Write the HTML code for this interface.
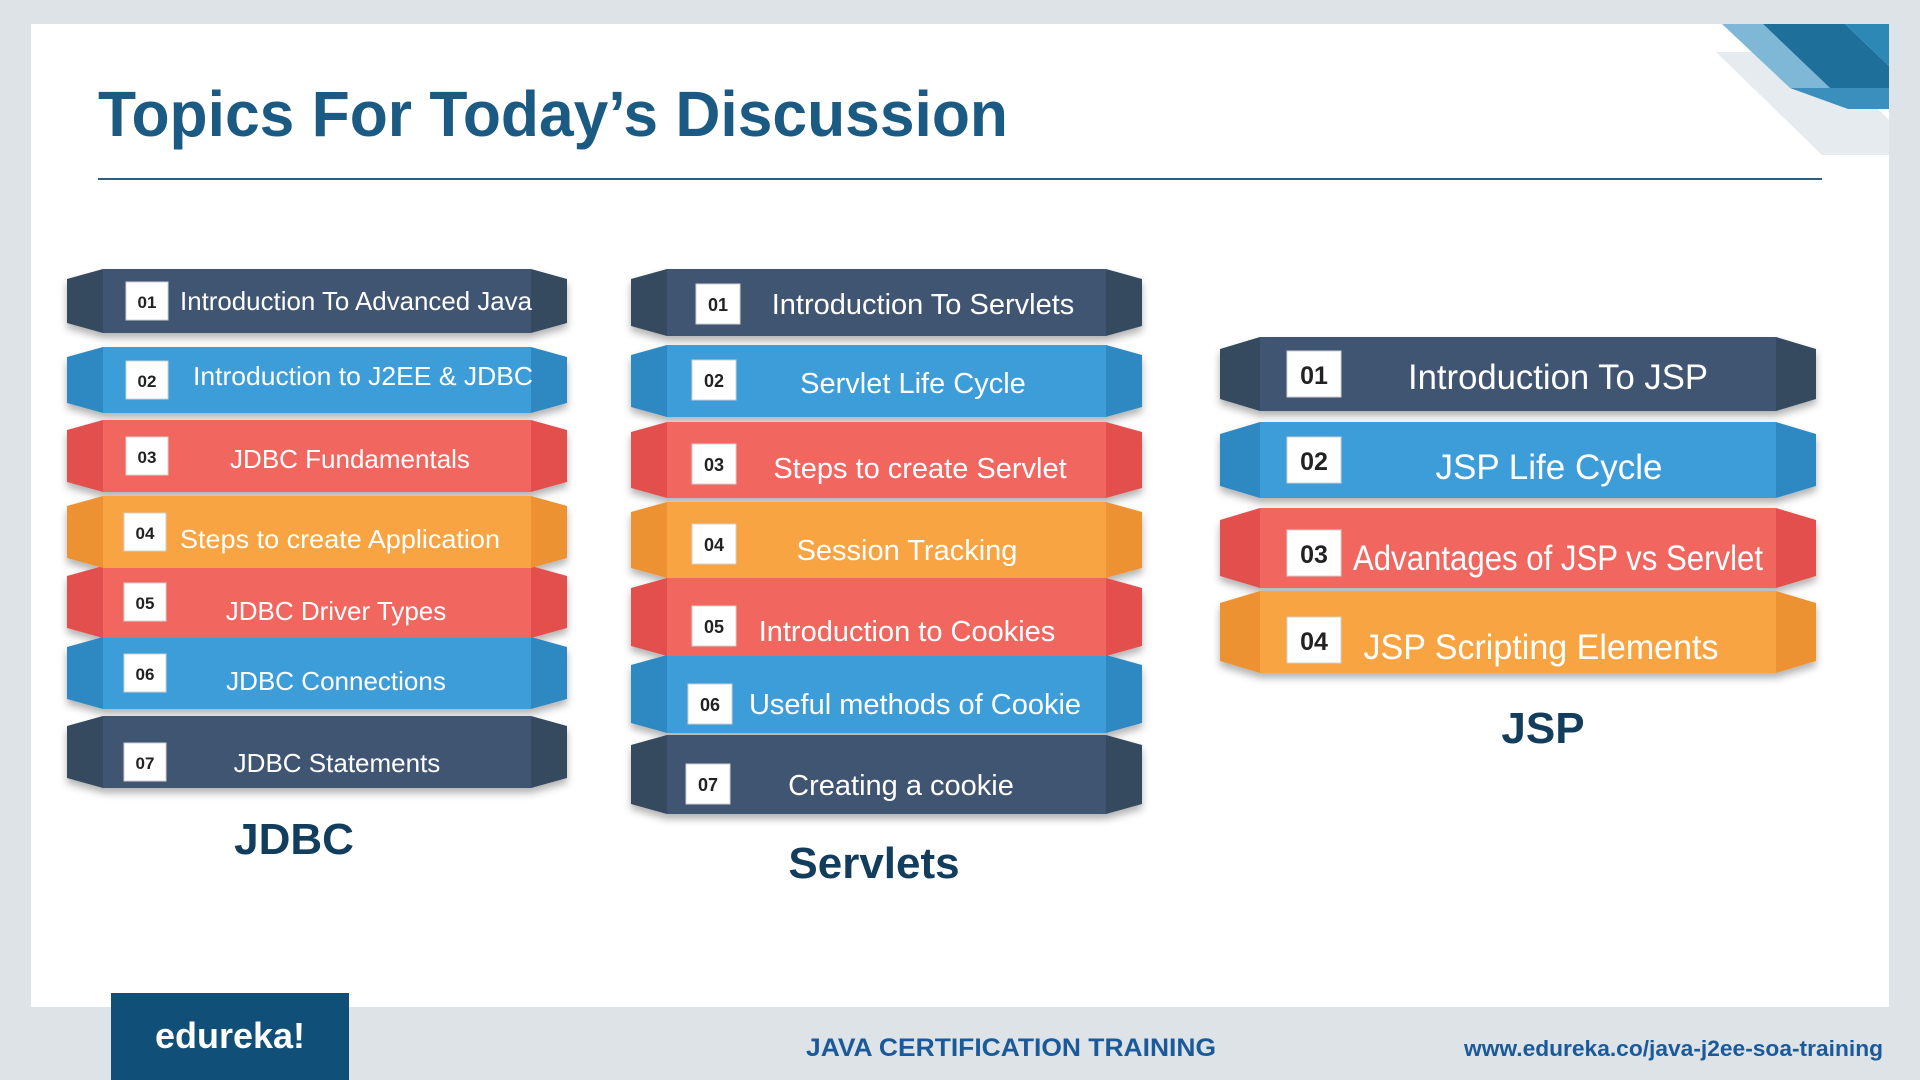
<!DOCTYPE html>
<html><head><meta charset="utf-8"><style>
html,body{margin:0;padding:0;width:1920px;height:1080px;overflow:hidden;background:#dde3e6;}
svg{display:block}
text{font-family:"Liberation Sans",sans-serif;}
</style></head><body>
<svg width="1920" height="1080" viewBox="0 0 1920 1080" xmlns="http://www.w3.org/2000/svg">
<defs>
<filter id="sh" x="-5%" y="-20%" width="110%" height="160%"><feDropShadow dx="0" dy="5" stdDeviation="4" flood-color="#000" flood-opacity="0.3"/></filter>
</defs>
<rect x="0" y="0" width="1920" height="1080" fill="#dde3e6"/>
<rect x="31" y="24" width="1858" height="983" fill="#ffffff"/>
<!-- corner decoration -->
<polygon points="1716,52 1822,52 1889,120 1889,155 1822,155" fill="#e6ebf0"/>
<polygon points="1722,24 1763,24 1830,88 1790,88" fill="#7fb8d6"/>
<polygon points="1763,24 1845,24 1889,66 1889,88 1830,88" fill="#1e6f9a"/>
<polygon points="1845,24 1889,24 1889,66" fill="#2e88b5"/>
<polygon points="1790,88 1889,88 1889,109 1848,109" fill="#3a8fbd"/>
<!-- title -->
<text x="98" y="136" font-size="64" font-weight="bold" fill="#1b5a82" textLength="910" lengthAdjust="spacingAndGlyphs">Topics For Today’s Discussion</text>
<rect x="98" y="178" width="1724" height="2" fill="#2f5f80"/>

<!-- COLUMN 1 JDBC -->
<g filter="url(#sh)">
<g transform="translate(67,716)"><polygon points="0,10 36,0 36,72 0,62" fill="#34495e"/><rect x="36" y="0" width="428" height="72" fill="#3f5572"/><polygon points="464,0 500,10 500,62 464,72" fill="#34495e"/></g>
<g transform="translate(67,637)"><polygon points="0,10 36,0 36,72 0,62" fill="#2f88c2"/><rect x="36" y="0" width="428" height="72" fill="#3c9dd9"/><polygon points="464,0 500,10 500,62 464,72" fill="#2f88c2"/></g>
<g transform="translate(67,566)"><polygon points="0,10 36,0 36,72 0,62" fill="#e2504d"/><rect x="36" y="0" width="428" height="72" fill="#f26661"/><polygon points="464,0 500,10 500,62 464,72" fill="#e2504d"/></g>
<g transform="translate(67,496)"><polygon points="0,10 36,0 36,72 0,62" fill="#ec9230"/><rect x="36" y="0" width="428" height="72" fill="#f8a443"/><polygon points="464,0 500,10 500,62 464,72" fill="#ec9230"/></g>
<g transform="translate(67,420)"><polygon points="0,10 36,0 36,72 0,62" fill="#e2504d"/><rect x="36" y="0" width="428" height="72" fill="#f26661"/><polygon points="464,0 500,10 500,62 464,72" fill="#e2504d"/></g>
<g transform="translate(67,347)"><polygon points="0,10 36,0 36,66 0,56" fill="#2f88c2"/><rect x="36" y="0" width="428" height="66" fill="#3c9dd9"/><polygon points="464,0 500,10 500,56 464,66" fill="#2f88c2"/></g>
<g transform="translate(67,269)"><polygon points="0,10 36,0 36,64 0,54" fill="#34495e"/><rect x="36" y="0" width="428" height="64" fill="#3f5572"/><polygon points="464,0 500,10 500,54 464,64" fill="#34495e"/></g>
</g>
<g fill="#fff" stroke="#d0d0d0" stroke-width="1">
<rect x="126" y="282" width="42" height="38"/><rect x="126" y="361" width="42" height="38"/><rect x="126" y="437" width="42" height="38"/><rect x="124" y="513" width="42" height="38"/><rect x="124" y="583" width="42" height="38"/><rect x="124" y="654" width="42" height="38"/><rect x="124" y="743" width="42" height="38"/>
</g>
<g font-size="17" font-weight="bold" fill="#222" text-anchor="middle">
<text x="147" y="308">01</text><text x="147" y="387">02</text><text x="147" y="463">03</text><text x="145" y="539">04</text><text x="145" y="609">05</text><text x="145" y="680">06</text><text x="145" y="769">07</text>
</g>
<g font-size="26" fill="#fff" text-anchor="middle">
<text x="356" y="310" textLength="352" lengthAdjust="spacingAndGlyphs">Introduction To Advanced Java</text>
<text x="363" y="385" textLength="340" lengthAdjust="spacingAndGlyphs">Introduction to J2EE &amp; JDBC</text>
<text x="350" y="468">JDBC Fundamentals</text>
<text x="340" y="548" textLength="320" lengthAdjust="spacingAndGlyphs">Steps to create Application</text>
<text x="336" y="620">JDBC Driver Types</text>
<text x="336" y="690">JDBC Connections</text>
<text x="337" y="772">JDBC Statements</text>
</g>
<text x="294" y="854" font-size="44" font-weight="bold" fill="#123d5c" text-anchor="middle">JDBC</text>

<!-- COLUMN 2 Servlets -->
<g filter="url(#sh)">
<g transform="translate(631,735)"><polygon points="0,10 36,0 36,79 0,69" fill="#34495e"/><rect x="36" y="0" width="439" height="79" fill="#3f5572"/><polygon points="475,0 511,10 511,69 475,79" fill="#34495e"/></g>
<g transform="translate(631,655)"><polygon points="0,10 36,0 36,78 0,68" fill="#2f88c2"/><rect x="36" y="0" width="439" height="78" fill="#3c9dd9"/><polygon points="475,0 511,10 511,68 475,78" fill="#2f88c2"/></g>
<g transform="translate(631,578)"><polygon points="0,10 36,0 36,78 0,68" fill="#e2504d"/><rect x="36" y="0" width="439" height="78" fill="#f26661"/><polygon points="475,0 511,10 511,68 475,78" fill="#e2504d"/></g>
<g transform="translate(631,502)"><polygon points="0,10 36,0 36,76 0,66" fill="#ec9230"/><rect x="36" y="0" width="439" height="76" fill="#f8a443"/><polygon points="475,0 511,10 511,66 475,76" fill="#ec9230"/></g>
<g transform="translate(631,422)"><polygon points="0,10 36,0 36,76 0,66" fill="#e2504d"/><rect x="36" y="0" width="439" height="76" fill="#f26661"/><polygon points="475,0 511,10 511,66 475,76" fill="#e2504d"/></g>
<g transform="translate(631,345)"><polygon points="0,10 36,0 36,72 0,62" fill="#2f88c2"/><rect x="36" y="0" width="439" height="72" fill="#3c9dd9"/><polygon points="475,0 511,10 511,62 475,72" fill="#2f88c2"/></g>
<g transform="translate(631,269)"><polygon points="0,10 36,0 36,67 0,57" fill="#34495e"/><rect x="36" y="0" width="439" height="67" fill="#3f5572"/><polygon points="475,0 511,10 511,57 475,67" fill="#34495e"/></g>
</g>
<g fill="#fff" stroke="#d0d0d0" stroke-width="1">
<rect x="696" y="284" width="44" height="40"/><rect x="692" y="360" width="44" height="40"/><rect x="692" y="444" width="44" height="40"/><rect x="692" y="524" width="44" height="40"/><rect x="692" y="606" width="44" height="40"/><rect x="688" y="684" width="44" height="40"/><rect x="686" y="764" width="44" height="40"/>
</g>
<g font-size="18" font-weight="bold" fill="#222" text-anchor="middle">
<text x="718" y="311">01</text><text x="714" y="387">02</text><text x="714" y="471">03</text><text x="714" y="551">04</text><text x="714" y="633">05</text><text x="710" y="711">06</text><text x="708" y="791">07</text>
</g>
<g font-size="29" fill="#fff" text-anchor="middle">
<text x="923" y="314">Introduction To Servlets</text>
<text x="913" y="393">Servlet Life Cycle</text>
<text x="920" y="478">Steps to create Servlet</text>
<text x="907" y="560">Session Tracking</text>
<text x="907" y="641">Introduction to Cookies</text>
<text x="915" y="714">Useful methods of Cookie</text>
<text x="901" y="795">Creating a cookie</text>
</g>
<text x="874" y="878" font-size="44" font-weight="bold" fill="#123d5c" text-anchor="middle">Servlets</text>

<!-- COLUMN 3 JSP -->
<g filter="url(#sh)">
<g transform="translate(1220,591)"><polygon points="0,12 40,0 40,82 0,70" fill="#ec9230"/><rect x="40" y="0" width="516" height="82" fill="#f8a443"/><polygon points="556,0 596,12 596,70 556,82" fill="#ec9230"/></g>
<g transform="translate(1220,508)"><polygon points="0,12 40,0 40,80 0,68" fill="#e2504d"/><rect x="40" y="0" width="516" height="80" fill="#f26661"/><polygon points="556,0 596,12 596,68 556,80" fill="#e2504d"/></g>
<g transform="translate(1220,422)"><polygon points="0,12 40,0 40,76 0,64" fill="#2f88c2"/><rect x="40" y="0" width="516" height="76" fill="#3c9dd9"/><polygon points="556,0 596,12 596,64 556,76" fill="#2f88c2"/></g>
<g transform="translate(1220,337)"><polygon points="0,12 40,0 40,74 0,62" fill="#34495e"/><rect x="40" y="0" width="516" height="74" fill="#3f5572"/><polygon points="556,0 596,12 596,62 556,74" fill="#34495e"/></g>
</g>
<g fill="#fff" stroke="#d0d0d0" stroke-width="1">
<rect x="1287" y="351" width="54" height="46"/><rect x="1287" y="437" width="54" height="46"/><rect x="1287" y="530" width="54" height="46"/><rect x="1287" y="617" width="54" height="46"/>
</g>
<g font-size="25" font-weight="bold" fill="#222" text-anchor="middle">
<text x="1314" y="384">01</text><text x="1314" y="470">02</text><text x="1314" y="563">03</text><text x="1314" y="650">04</text>
</g>
<g font-size="35" fill="#fff" text-anchor="middle">
<text x="1558" y="389" textLength="300" lengthAdjust="spacingAndGlyphs">Introduction To JSP</text>
<text x="1549" y="479">JSP Life Cycle</text>
<text x="1558" y="570" textLength="410" lengthAdjust="spacingAndGlyphs">Advantages of JSP vs Servlet</text>
<text x="1541" y="659" textLength="355" lengthAdjust="spacingAndGlyphs">JSP Scripting Elements</text>
</g>
<text x="1543" y="743" font-size="44" font-weight="bold" fill="#123d5c" text-anchor="middle">JSP</text>

<!-- footer -->
<rect x="111" y="993" width="238" height="87" fill="#0f4f78"/>
<text x="230" y="1048" font-size="36" font-weight="bold" fill="#fff" text-anchor="middle" font-family="Liberation Serif, serif">edureka!</text>
<text x="1011" y="1056" font-size="25" font-weight="bold" fill="#1a5a9a" text-anchor="middle" textLength="410" lengthAdjust="spacingAndGlyphs">JAVA CERTIFICATION TRAINING</text>
<text x="1464" y="1056" font-size="22" font-weight="bold" fill="#1a5a9a" textLength="419" lengthAdjust="spacingAndGlyphs">www.edureka.co/java-j2ee-soa-training</text>
</svg>
</body></html>
